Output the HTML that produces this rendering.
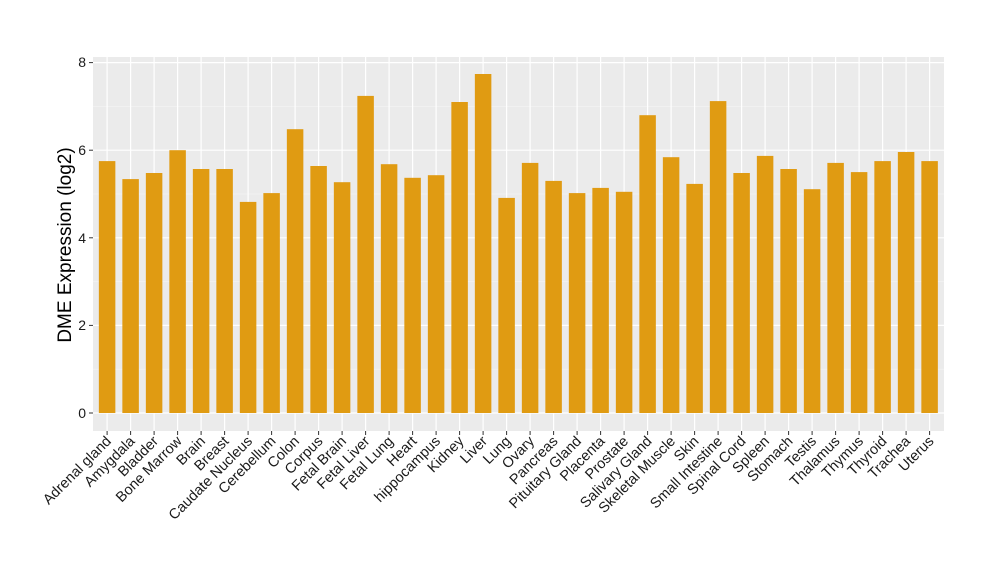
<!DOCTYPE html>
<html><head><style>body{margin:0;background:#fff}svg{display:block;font-family:"Liberation Sans",sans-serif}</style></head>
<body>
<svg width="1000" height="580" viewBox="0 0 1000 580">
<rect x="93" y="57" width="851" height="374" fill="#ebebeb"/>
<g stroke="#f5f5f5" stroke-width="0.6">
<line x1="93" x2="944" y1="369.2" y2="369.2"/><line x1="93" x2="944" y1="281.6" y2="281.6"/><line x1="93" x2="944" y1="194" y2="194"/><line x1="93" x2="944" y1="106.4" y2="106.4"/>
</g>
<g stroke="#fff" stroke-width="1.2">
<line x1="93" x2="944" y1="413" y2="413"/><line x1="93" x2="944" y1="325.4" y2="325.4"/><line x1="93" x2="944" y1="237.8" y2="237.8"/><line x1="93" x2="944" y1="150.2" y2="150.2"/><line x1="93" x2="944" y1="62.6" y2="62.6"/>
<path d="M107.1 57V431M130.6 57V431M154.1 57V431M177.6 57V431M201.1 57V431M224.6 57V431M248.1 57V431M271.6 57V431M295.1 57V431M318.6 57V431M342.1 57V431M365.6 57V431M389.1 57V431M412.6 57V431M436.1 57V431M459.6 57V431M483.1 57V431M506.6 57V431M530.1 57V431M553.6 57V431M577.1 57V431M600.6 57V431M624.1 57V431M647.6 57V431M671.1 57V431M694.6 57V431M718.1 57V431M741.6 57V431M765.1 57V431M788.6 57V431M812.1 57V431M835.6 57V431M859.1 57V431M882.6 57V431M906.1 57V431M929.6 57V431"/>
</g>
<g fill="#e09b12">
<rect x="98.85" y="161.1" width="16.5" height="251.9"/>
<rect x="122.35" y="179.1" width="16.5" height="233.9"/>
<rect x="145.85" y="173" width="16.5" height="240"/>
<rect x="169.35" y="150.2" width="16.5" height="262.8"/>
<rect x="192.85" y="169" width="16.5" height="244"/>
<rect x="216.35" y="169" width="16.5" height="244"/>
<rect x="239.85" y="201.9" width="16.5" height="211.1"/>
<rect x="263.35" y="193.1" width="16.5" height="219.9"/>
<rect x="286.85" y="129.2" width="16.5" height="283.8"/>
<rect x="310.35" y="166" width="16.5" height="247"/>
<rect x="333.85" y="182.2" width="16.5" height="230.8"/>
<rect x="357.35" y="95.9" width="16.5" height="317.1"/>
<rect x="380.85" y="164.2" width="16.5" height="248.8"/>
<rect x="404.35" y="177.8" width="16.5" height="235.2"/>
<rect x="427.85" y="175.2" width="16.5" height="237.8"/>
<rect x="451.35" y="102" width="16.5" height="311"/>
<rect x="474.85" y="74" width="16.5" height="339"/>
<rect x="498.35" y="197.9" width="16.5" height="215.1"/>
<rect x="521.85" y="162.9" width="16.5" height="250.1"/>
<rect x="545.35" y="180.9" width="16.5" height="232.1"/>
<rect x="568.85" y="193.1" width="16.5" height="219.9"/>
<rect x="592.35" y="187.9" width="16.5" height="225.1"/>
<rect x="615.85" y="191.8" width="16.5" height="221.2"/>
<rect x="639.35" y="115.2" width="16.5" height="297.8"/>
<rect x="662.85" y="157.2" width="16.5" height="255.8"/>
<rect x="686.35" y="183.9" width="16.5" height="229.1"/>
<rect x="709.85" y="101.1" width="16.5" height="311.9"/>
<rect x="733.35" y="173" width="16.5" height="240"/>
<rect x="756.85" y="155.9" width="16.5" height="257.1"/>
<rect x="780.35" y="169" width="16.5" height="244"/>
<rect x="803.85" y="189.2" width="16.5" height="223.8"/>
<rect x="827.35" y="162.9" width="16.5" height="250.1"/>
<rect x="850.85" y="172.1" width="16.5" height="240.9"/>
<rect x="874.35" y="161.1" width="16.5" height="251.9"/>
<rect x="897.85" y="152" width="16.5" height="261"/>
<rect x="921.35" y="161.1" width="16.5" height="251.9"/>
</g>
<g stroke="#333" stroke-width="1">
<line x1="89" x2="93" y1="413" y2="413"/><line x1="89" x2="93" y1="325.4" y2="325.4"/><line x1="89" x2="93" y1="237.8" y2="237.8"/><line x1="89" x2="93" y1="150.2" y2="150.2"/><line x1="89" x2="93" y1="62.6" y2="62.6"/>
<path d="M107.1 431V435M130.6 431V435M154.1 431V435M177.6 431V435M201.1 431V435M224.6 431V435M248.1 431V435M271.6 431V435M295.1 431V435M318.6 431V435M342.1 431V435M365.6 431V435M389.1 431V435M412.6 431V435M436.1 431V435M459.6 431V435M483.1 431V435M506.6 431V435M530.1 431V435M553.6 431V435M577.1 431V435M600.6 431V435M624.1 431V435M647.6 431V435M671.1 431V435M694.6 431V435M718.1 431V435M741.6 431V435M765.1 431V435M788.6 431V435M812.1 431V435M835.6 431V435M859.1 431V435M882.6 431V435M906.1 431V435M929.6 431V435"/>
</g>
<g font-size="14" fill="#1a1a1a" text-anchor="end">
<text x="86" y="418">0</text><text x="86" y="330">2</text><text x="86" y="243">4</text><text x="86" y="155">6</text><text x="86" y="67">8</text>
</g>
<text transform="translate(71,245) rotate(-90)" font-size="19" text-anchor="middle" fill="#000">DME Expression (log2)</text>
<g font-size="14.5" fill="#1a1a1a" text-anchor="end">
<text transform="translate(112,442) rotate(-45)">Adrenal gland</text>
<text transform="translate(135.6,442) rotate(-45)">Amygdala</text>
<text transform="translate(159.1,442) rotate(-45)">Bladder</text>
<text transform="translate(182.6,442) rotate(-45)">Bone Marrow</text>
<text transform="translate(206.1,442) rotate(-45)">Brain</text>
<text transform="translate(229.6,442) rotate(-45)">Breast</text>
<text transform="translate(253.1,442) rotate(-45)">Caudate Nucleus</text>
<text transform="translate(276.6,442) rotate(-45)">Cerebellum</text>
<text transform="translate(300.1,442) rotate(-45)">Colon</text>
<text transform="translate(323.6,442) rotate(-45)">Corpus</text>
<text transform="translate(347.1,442) rotate(-45)">Fetal Brain</text>
<text transform="translate(370.6,442) rotate(-45)">Fetal Liver</text>
<text transform="translate(394.1,442) rotate(-45)">Fetal Lung</text>
<text transform="translate(417.6,442) rotate(-45)">Heart</text>
<text transform="translate(441.1,442) rotate(-45)">hippocampus</text>
<text transform="translate(464.6,442) rotate(-45)">Kidney</text>
<text transform="translate(488.1,442) rotate(-45)">Liver</text>
<text transform="translate(511.6,442) rotate(-45)">Lung</text>
<text transform="translate(535.1,442) rotate(-45)">Ovary</text>
<text transform="translate(558.6,442) rotate(-45)">Pancreas</text>
<text transform="translate(582.1,442) rotate(-45)">Pituitary Gland</text>
<text transform="translate(605.6,442) rotate(-45)">Placenta</text>
<text transform="translate(629.1,442) rotate(-45)">Prostate</text>
<text transform="translate(652.6,442) rotate(-45)">Salivary Gland</text>
<text transform="translate(676.1,442) rotate(-45)">Skeletal Muscle</text>
<text transform="translate(699.6,442) rotate(-45)">Skin</text>
<text transform="translate(723.1,442) rotate(-45)">Small Intestine</text>
<text transform="translate(746.6,442) rotate(-45)">Spinal Cord</text>
<text transform="translate(770.1,442) rotate(-45)">Spleen</text>
<text transform="translate(793.6,442) rotate(-45)">Stomach</text>
<text transform="translate(817.1,442) rotate(-45)">Testis</text>
<text transform="translate(840.6,442) rotate(-45)">Thalamus</text>
<text transform="translate(864.1,442) rotate(-45)">Thymus</text>
<text transform="translate(887.6,442) rotate(-45)">Thyroid</text>
<text transform="translate(911.1,442) rotate(-45)">Trachea</text>
<text transform="translate(934.6,442) rotate(-45)">Uterus</text>
</g>
</svg>
</body></html>
